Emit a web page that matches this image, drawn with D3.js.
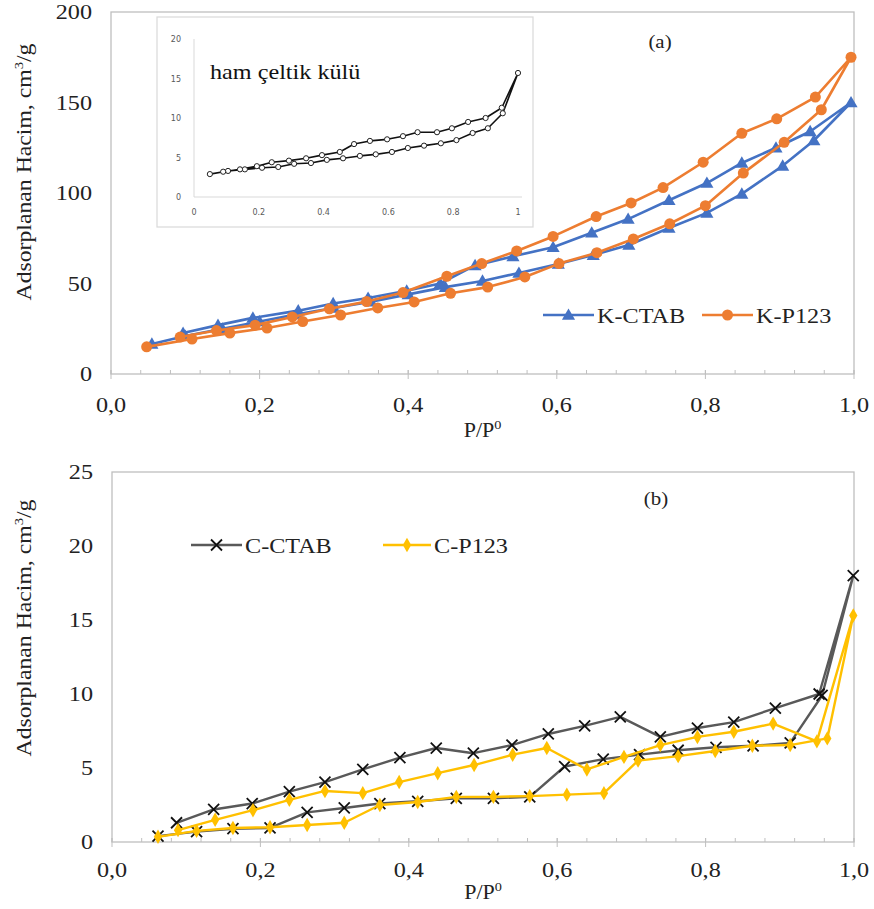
<!DOCTYPE html>
<html><head><meta charset="utf-8">
<script src="https://cdn.jsdelivr.net/npm/d3@7"></script>
<style>body{margin:0;background:#fff}svg{display:block}
.sf{font-family:"Liberation Serif","Times New Roman","DejaVu Serif",serif;fill:#222}
</style>
</head><body>
<svg id="c" width="874" height="909"></svg>
<script>
// ---------- DATA ----------
// (a) K-CTAB: adsorption then desorption
const kctabP = [0.055,0.10,0.15,0.20,0.25,0.30,0.35,0.40,0.45,0.50,0.549,0.602,0.649,0.697,0.751,0.802,0.849,0.904,0.946,0.996,
                0.941,0.895,0.849,0.802,0.751,0.696,0.647,0.595,0.541,0.49,0.443,0.398,0.346,0.299,0.252,0.191,0.144,0.097];
const kctabV = [16.6,21,25,29,33,36.5,40,44,48,51.4,55.8,60.8,65.7,71.3,80.7,89,99.5,115,129,150,
                134,125,116.6,105.5,96,85.6,78,70,65,60,50,46,42,39,35,31,27,22.6];
const kp123P = [0.048,0.109,0.160,0.21,0.258,0.309,0.359,0.408,0.457,0.507,0.557,0.603,0.654,0.703,0.752,0.800,0.851,0.906,0.956,0.996,
                0.948,0.896,0.849,0.797,0.743,0.700,0.653,0.595,0.546,0.499,0.452,0.393,0.344,0.294,0.244,0.194,0.142,0.093];
const kp123V = [15,19.3,22.6,25.4,29,32.6,36.5,39.8,44.6,48,53.6,61,67,74.6,83,93,111,128,146,175,
                153,141,133,117,103,94.5,87,76,68,61,54,45,40,36,31.5,27,24,20.4];
// inset: ham çeltik külü
const hamP = [0.049,0.105,0.157,0.21,0.26,0.309,0.361,0.41,0.46,0.512,0.561,0.611,0.66,0.71,0.762,0.81,0.86,0.907,0.953,1.0,
              0.95,0.90,0.846,0.796,0.75,0.69,0.645,0.596,0.543,0.494,0.45,0.395,0.346,0.293,0.24,0.194,0.142,0.09];
const hamV = [2.9,3.3,3.5,3.7,3.8,4.2,4.3,4.7,4.9,5.2,5.4,5.7,6.2,6.5,6.8,7.2,8.1,8.7,10.6,15.7,
              11.3,10.0,9.5,8.7,8.2,8.2,7.7,7.3,7.1,6.7,5.7,5.3,4.9,4.6,4.4,3.9,3.5,3.2];
// (b)
const cctabP = [0.062,0.114,0.163,0.213,0.263,0.313,0.361,0.412,0.464,0.514,0.563,0.61,0.662,0.711,0.763,0.814,0.864,0.914,0.957,0.999,
                0.953,0.894,0.838,0.789,0.739,0.685,0.637,0.588,0.539,0.487,0.437,0.388,0.338,0.287,0.239,0.189,0.137,0.087];
const cctabV = [0.4,0.7,0.9,0.95,2.0,2.3,2.6,2.75,2.95,2.95,3.05,5.1,5.6,5.9,6.2,6.4,6.5,6.7,9.9,18.0,
                10.0,9.05,8.1,7.7,7.1,8.45,7.85,7.3,6.55,6.0,6.35,5.7,4.9,4.05,3.4,2.6,2.2,1.3];
const cp123P = [0.062,0.114,0.163,0.213,0.263,0.313,0.361,0.412,0.464,0.514,0.563,0.613,0.663,0.709,0.763,0.813,0.863,0.914,0.964,0.999,
                0.95,0.891,0.838,0.789,0.739,0.69,0.64,0.586,0.54,0.488,0.439,0.387,0.338,0.287,0.239,0.19,0.139,0.089];
const cp123V = [0.35,0.75,0.95,1.0,1.15,1.3,2.5,2.7,3.05,3.05,3.1,3.2,3.3,5.5,5.8,6.15,6.5,6.55,7.0,15.3,
                6.8,8.0,7.45,7.1,6.55,5.75,4.9,6.35,5.9,5.2,4.65,4.05,3.3,3.45,2.85,2.15,1.5,0.8];
const xTicks = [0,0.2,0.4,0.6,0.8,1.0];
const yTicksA = [0,50,100,150,200];
const yTicksB = [0,5,10,15,20,25];
const insetXTicks = [0,0.2,0.4,0.6,0.8,1];
const insetYTicks = [0,5,10,15,20];
// ---------- DRAW ----------
const svg = d3.select("#c");
const axisCol = "#bfbfbf";
const SX = 1.1;
const fmt = d => d3.format(".1f")(d).replace(".", ",");
const zip = (a,b) => a.map((v,i)=>[v,b[i]]);

function stext(x, y, str, size, anchor){
  return svg.append("text").attr("class","sf")
    .attr("transform",`translate(${x},${y}) scale(${SX},1)`)
    .attr("text-anchor",anchor||"start").attr("font-size",size).text(str);
}

function frame(x, y, yTicks, labelY, titleY, yTitleCY){
  const [x0,x1]=x.range(), [y0,y1]=y.range();
  svg.append("rect").attr("x",x0).attr("y",y1).attr("width",x1-x0).attr("height",y0-y1)
     .attr("fill","none").attr("stroke",axisCol).attr("stroke-width",1.3);
  d3.range(0,1.0001,0.04).forEach(t=>{
    svg.append("line").attr("x1",x(t)).attr("x2",x(t)).attr("y1",y0).attr("y2",y0-4)
      .attr("stroke",axisCol).attr("stroke-width",1);
  });
  xTicks.forEach(t=>{
    svg.append("line").attr("x1",x(t)).attr("x2",x(t)).attr("y1",y0+5).attr("y2",y0-4)
      .attr("stroke",axisCol).attr("stroke-width",1);
    stext(x(t),labelY,fmt(t),22,"middle");
  });
  yTicks.forEach(t=>{
    stext(x0-19,y(t)+7,String(t),22,"end");
  });
  const tt = stext((x0+x1)/2,titleY,"",20,"middle");
  tt.append("tspan").text("P/P");
  tt.append("tspan").attr("dy",-8).attr("font-size",13).text("0");
  const yt = svg.append("text").attr("class","sf")
    .attr("transform",`translate(31,${yTitleCY}) rotate(-90) scale(1.13,1)`)
    .attr("text-anchor","middle").attr("font-size",21);
  yt.append("tspan").text("Adsorplanan Hacim, cm");
  yt.append("tspan").attr("dy",-8).attr("font-size",13).text("3");
  yt.append("tspan").attr("dy",8).text("/g");
}

function series(x,y,P,V,color,width,marker){
  const line = d3.line().x(d=>x(d[0])).y(d=>y(d[1]));
  const pts = zip(P,V);
  svg.append("path").attr("d",line(pts)).attr("fill","none").attr("stroke",color)
     .attr("stroke-width",width).attr("stroke-linejoin","round");
  pts.forEach(d=>marker(x(d[0]),y(d[1])));
}
const tri = (col)=> (cx,cy)=> svg.append("path")
  .attr("d",d3.symbol().type(d3.symbolTriangle).size(75)()).attr("transform",`translate(${cx},${cy+1})`).attr("fill",col);
const circ = (col,r)=> (cx,cy)=> svg.append("circle").attr("cx",cx).attr("cy",cy).attr("r",r).attr("fill",col);
const dia = (col)=> (cx,cy)=> svg.append("path")
  .attr("d",d3.symbol().type(d3.symbolDiamond).size(60)()).attr("transform",`translate(${cx},${cy})`).attr("fill",col);
const xmark = (col)=> (cx,cy)=> svg.append("path")
  .attr("d",`M${cx-5.5},${cy-5.5}L${cx+5.5},${cy+5.5}M${cx-5.5},${cy+5.5}L${cx+5.5},${cy-5.5}`)
  .attr("stroke",col).attr("stroke-width",1.8);
const ring = (cx,cy)=> svg.append("circle").attr("cx",cx).attr("cy",cy).attr("r",2.6)
  .attr("fill","#fff").attr("stroke","#222").attr("stroke-width",1);

// ----- (a) -----
const xA = d3.scaleLinear().domain([0,1]).range([111,854]);
const yA = d3.scaleLinear().domain([0,200]).range([374,12]);
frame(xA,yA,yTicksA,412,437,172);
const blue="#4472c4", orange="#ed7d31";
series(xA,yA,kctabP,kctabV,blue,2.6,tri(blue));
series(xA,yA,kp123P,kp123V,orange,2.6,circ(orange,5.5));

// inset
svg.append("rect").attr("x",157).attr("y",17).attr("width",376).attr("height",210)
  .attr("fill","#fff").attr("stroke","#d9d9d9").attr("stroke-width",1.2);
const xI = d3.scaleLinear().domain([0,1]).range([194,518]);
const yI = d3.scaleLinear().domain([0,20]).range([197,39]);
svg.append("line").attr("x1",xI(0)).attr("x2",xI(0)).attr("y1",yI(0)).attr("y2",yI(20)).attr("stroke","#d9d9d9");
svg.append("line").attr("x1",xI(0)).attr("x2",xI(1)+4).attr("y1",yI(0)).attr("y2",yI(0)).attr("stroke","#d9d9d9");
insetXTicks.forEach(t=>svg.append("text").attr("x",xI(t)).attr("y",215).attr("text-anchor","middle")
  .attr("font-family","'DejaVu Sans',sans-serif").attr("font-size",8).attr("fill","#595959").text(t===0||t===1?t:t.toFixed(1)));
insetYTicks.forEach(t=>svg.append("text").attr("x",xI(0)-13).attr("y",yI(t)+3).attr("text-anchor","end")
  .attr("font-family","'DejaVu Sans',sans-serif").attr("font-size",8).attr("fill","#595959").text(t));
stext(210,79,"ham çeltik külü",22).style("fill","#111");
series(xI,yI,hamP,hamV,"#111",1.6,ring);

stext(660,48,"(a)",19,"middle");

// legend
function legendItem(x0,y0,color,marker,label,w){
  svg.append("line").attr("x1",x0).attr("x2",x0+w).attr("y1",y0).attr("y2",y0).attr("stroke",color).attr("stroke-width",2.6);
  marker(x0+w/2,y0);
  stext(x0+w+3,y0+8,label,22);
}
legendItem(543,315,blue,tri(blue),"K-CTAB",51);
legendItem(702,315,orange,circ(orange,5.5),"K-P123",51);

// ----- (b) -----
const xB = d3.scaleLinear().domain([0,1]).range([112,854]);
const yB = d3.scaleLinear().domain([0,25]).range([842,472]);
frame(xB,yB,yTicksB,877,899,628);
const gray="#595959", gold="#ffc000";
series(xB,yB,cctabP,cctabV,gray,2.4,xmark("#111"));
series(xB,yB,cp123P,cp123V,gold,2.4,dia(gold));
stext(656,505,"(b)",19,"middle");
legendItem(191,545,gray,xmark("#111"),"C-CTAB",51);
legendItem(383,545,gold,dia(gold),"C-P123",48);
</script>
</body></html>
